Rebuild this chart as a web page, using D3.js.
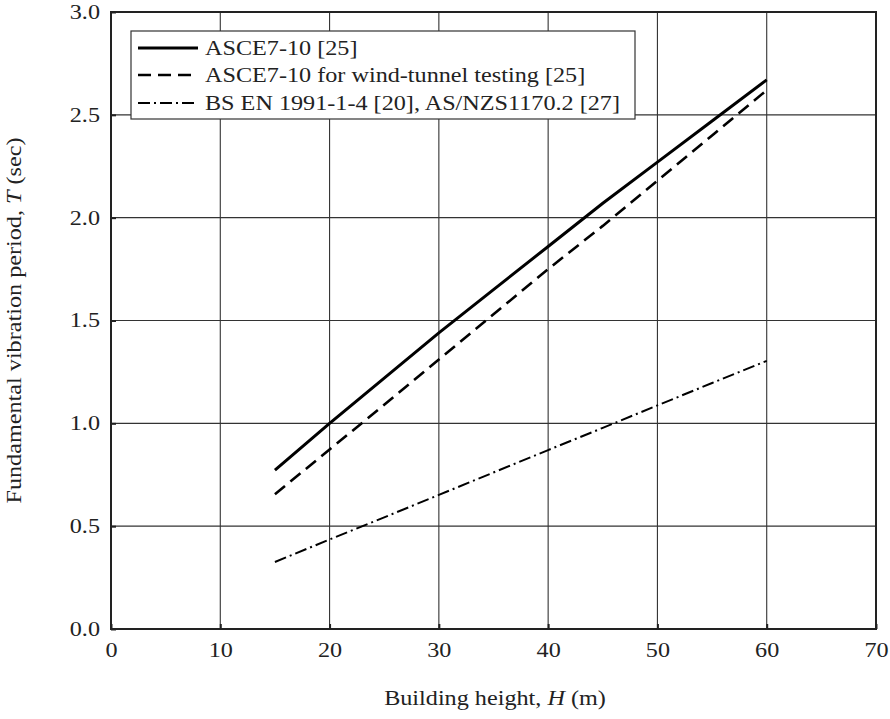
<!DOCTYPE html>
<html>
<head>
<meta charset="utf-8">
<script src="https://cdn.jsdelivr.net/npm/d3@7"></script>
<style>
  body { margin: 0; background: #fff; }
  svg { display: block; }
  text { font-family: "Liberation Serif", "Times New Roman", serif; fill: #222; }
</style>
</head>
<body>
<svg id="chart" width="890" height="719"></svg>
<script>
// ---- data ----
const heights = [15, 20, 25, 30, 35, 40, 45, 50, 55, 60];
const asce = [0.773, 1.00, 1.22, 1.44, 1.65, 1.86, 2.07, 2.27, 2.47, 2.67];
const asceWind = [0.655, 0.873, 1.09, 1.31, 1.53, 1.75, 1.96, 2.18, 2.40, 2.62];
const bsEn = [0.326, 0.435, 0.543, 0.652, 0.761, 0.870, 0.978, 1.087, 1.196, 1.304];
const seriesNames = [
  "ASCE7-10 [25]",
  "ASCE7-10 for wind-tunnel testing [25]",
  "BS EN 1991-1-4 [20], AS/NZS1170.2 [27]"
];
const xTicks = [0, 10, 20, 30, 40, 50, 60, 70];
const yTicks = [0.0, 0.5, 1.0, 1.5, 2.0, 2.5, 3.0];

// ---- layout ----
const SX = 1.21; // horizontal widening of the serif face
const FS = "20px";
const svg = d3.select("#chart");
const L = 111, R = 876, T = 12, B = 629;
const x = d3.scaleLinear().domain([0, 70]).range([L, R]);
const y = d3.scaleLinear().domain([0, 3]).range([B, T]);

function widen(sel, ax, ay) {
  sel.attr("transform", `translate(${ax},${ay}) scale(${SX},1) translate(${-ax},${-ay})`);
}

// grid
const grid = svg.append("g");
grid.selectAll("line.v").data(xTicks.slice(1, -1)).join("line")
  .attr("x1", d => x(d)).attr("x2", d => x(d))
  .attr("y1", T).attr("y2", B)
  .attr("stroke", "#333").attr("stroke-width", 1.1);
grid.selectAll("line.h").data(yTicks.slice(1, -1)).join("line")
  .attr("x1", L).attr("x2", R)
  .attr("y1", d => y(d)).attr("y2", d => y(d))
  .attr("stroke", "#333").attr("stroke-width", 1.1);

// axes
const xAxis = d3.axisBottom(x).tickValues(xTicks).tickFormat(d3.format("d"))
  .tickSizeInner(-5).tickSizeOuter(0).tickPadding(10);
const yAxis = d3.axisLeft(y).tickValues(yTicks).tickFormat(d3.format(".1f"))
  .tickSizeInner(-5).tickSizeOuter(0).tickPadding(11);

const gx = svg.append("g").attr("transform", `translate(0,${B})`).call(xAxis);
const gy = svg.append("g").attr("transform", `translate(${L},0)`).call(yAxis);
[gx, gy].forEach(g => {
  g.select(".domain").remove();
  g.selectAll(".tick line").attr("stroke", "#222").attr("stroke-width", 2);
  g.selectAll(".tick text").style("font-family", '"Liberation Serif", serif')
    .style("font-size", FS).attr("fill", "#222");
});
gx.selectAll(".tick text").attr("dy", "0.92em").each(function () { widen(d3.select(this), 0, 0); });
gy.selectAll(".tick text").each(function () { widen(d3.select(this), -11, 0); });

// frame
svg.append("rect").attr("x", L).attr("y", T).attr("width", R - L).attr("height", B - T)
  .attr("fill", "none").attr("stroke", "#222").attr("stroke-width", 2);

// lines
const styles = [
  { data: asce, width: 3, dash: null },
  { data: asceWind, width: 2.6, dash: "13,7" },
  { data: bsEn, width: 2, dash: "12,4,2,4" }
];
const line = d3.line().x((d, i) => x(heights[i])).y(d => y(d));
styles.forEach(s => {
  svg.append("path").datum(s.data).attr("d", line)
    .attr("fill", "none").attr("stroke", "#000")
    .attr("stroke-width", s.width)
    .attr("stroke-dasharray", s.dash);
});

// legend
const lg = svg.append("g");
lg.append("rect").attr("x", 131).attr("y", 31).attr("width", 504).attr("height", 88)
  .attr("fill", "#fff").attr("stroke", "#333").attr("stroke-width", 1.2);
const rowY = [48, 75, 103];
styles.forEach((s, i) => {
  lg.append("line").attr("x1", 138).attr("x2", 198)
    .attr("y1", rowY[i]).attr("y2", rowY[i])
    .attr("stroke", "#000").attr("stroke-width", s.width)
    .attr("stroke-dasharray", s.dash);
  const t = lg.append("text").attr("x", 205).attr("y", rowY[i]).attr("dy", "0.35em")
    .style("font-size", FS).text(seriesNames[i]);
  widen(t, 205, rowY[i]);
});

// axis titles
const xt = svg.append("text").attr("x", 495).attr("y", 705)
  .attr("text-anchor", "middle").style("font-size", FS);
xt.append("tspan").text("Building height, ");
xt.append("tspan").attr("font-style", "italic").text("H");
xt.append("tspan").text(" (m)");
widen(xt, 495, 705);

const ytg = svg.append("g").attr("transform", `translate(21,${(T + B) / 2}) rotate(-90)`);
const yt = ytg.append("text").attr("x", 0).attr("y", 0)
  .attr("text-anchor", "middle").style("font-size", FS);
yt.append("tspan").text("Fundamental vibration period, ");
yt.append("tspan").attr("font-style", "italic").text("T");
yt.append("tspan").text(" (sec)");
widen(yt, 0, 0);
</script>
</body>
</html>
